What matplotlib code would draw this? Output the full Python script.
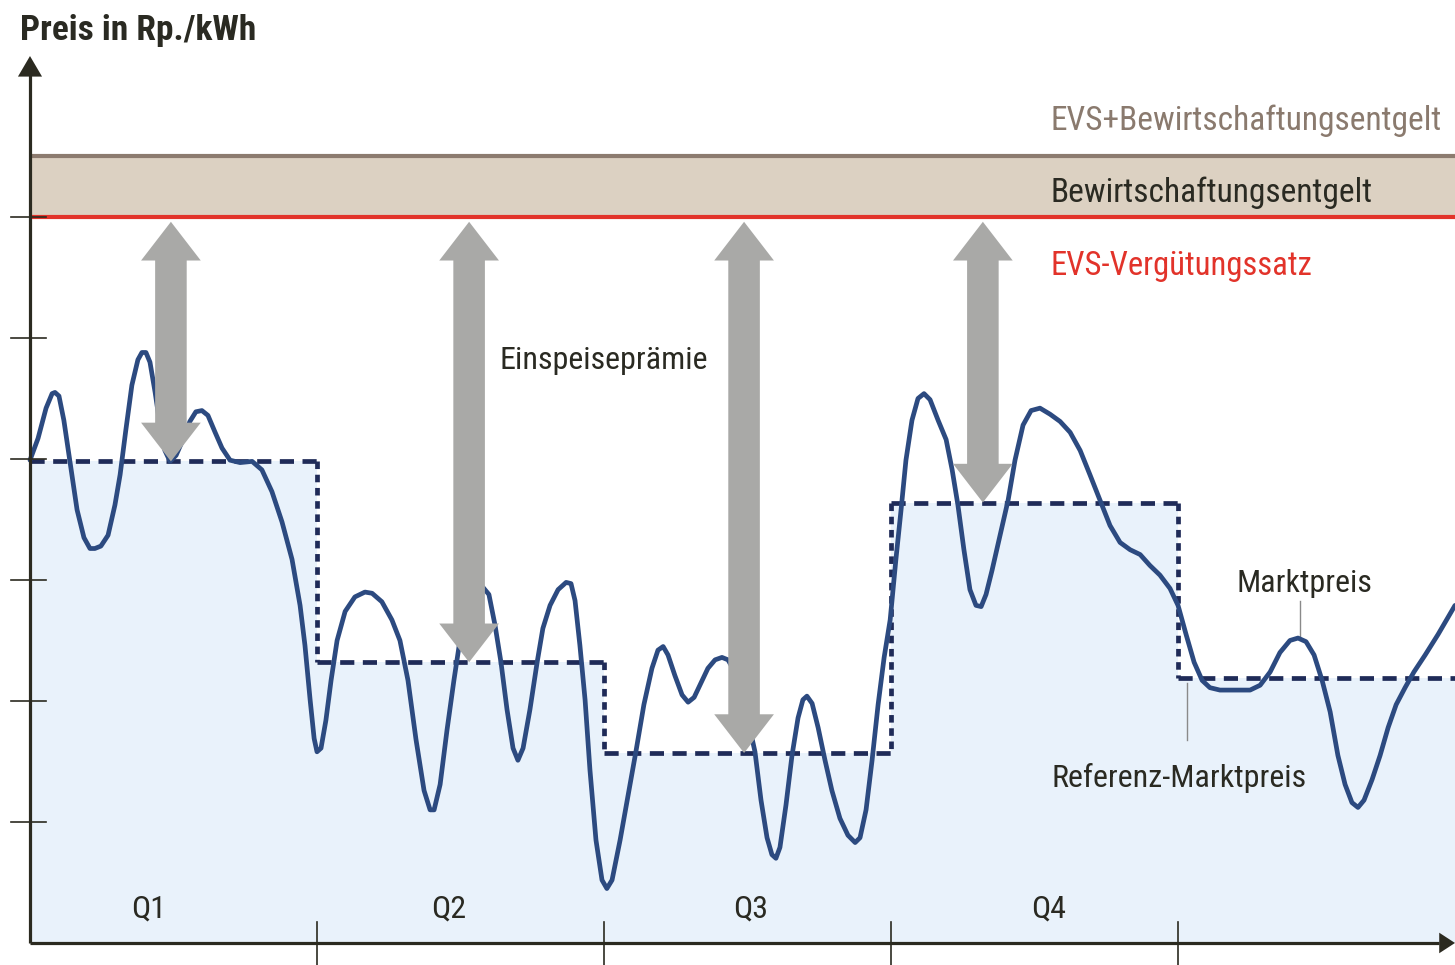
import matplotlib
matplotlib.use('Agg')
import matplotlib.pyplot as plt
from matplotlib.patches import Polygon

# ---------------- data ----------------
# time axis: 100 units per quarter (Q1 = 0..100, Q2 = 100..200, ...)
t = [0, 2.8, 5.6, 7.7, 8.7, 10.1, 11.8, 13.9, 16.4, 18.8, 20.9, 22.6, 24.7, 27.2, 29.6,
     31.4, 33.4, 35.5, 37.6, 39.0, 40.4, 41.8, 43.6, 45.3, 47.0, 48.8, 50.9, 53.3, 55.7,
     57.8, 59.9, 62.0, 64.5, 66.9, 69.7, 73.2, 77.4, 80.8, 84.3, 87.8, 91.3, 94.1, 95.8,
     97.6, 99.0, 100.0, 101.4, 103.1, 104.9, 107.0, 109.8, 113.2, 116.7, 119.2, 122.6,
     126.1, 128.9, 131.7, 134.5, 137.3, 139.4, 140.8, 142.9, 145.3, 147.7, 149.8, 152.6,
     155.4, 157.8, 159.9, 162.0, 164.1, 166.2, 168.3, 170.0, 171.8, 174.2, 176.7, 178.7,
     181.2, 184.0, 186.8, 188.5, 189.9, 191.6, 193.4, 195.1, 197.2, 199.3, 201.0, 202.8,
     205.6, 208.4, 211.1, 213.9, 216.7, 218.8, 220.6, 222.3, 224.7, 227.2, 229.3, 231.4,
     233.8, 236.2, 238.7, 241.1, 243.2, 245.6, 248.1, 250.2, 252.6, 254.7, 256.8, 258.5,
     259.9, 261.3, 263.4, 265.5, 267.6, 269.3, 270.7, 272.5, 274.6, 277.0, 279.4, 282.2,
     285.0, 287.5, 289.2, 291.3, 293.4, 295.5, 297.6, 299.7, 301.7, 303.5, 305.2, 307.3,
     309.4, 311.5, 313.6, 316.4, 319.2, 321.3, 323.3, 325.4, 327.5, 329.6, 331.4, 333.1,
     335.2, 338.0, 340.8, 343.2, 346.0, 348.8, 351.9, 355.4, 358.9, 362.4, 365.9, 369.3,
     372.8, 376.3, 379.8, 383.3, 386.8, 390.2, 393.7, 397.2, 400.0, 402.8, 405.6, 408.4,
     411.1, 414.6, 419.9, 425.1, 428.6, 432.1, 435.5, 439.0, 441.8, 444.6, 447.4, 450.2,
     453.0, 455.7, 458.2, 460.6, 462.7, 464.8, 467.6, 470.4, 473.2, 476.0, 479.1, 482.2,
     486.1, 490.6, 496.5]
market_price = [39.9, 41.7, 44.2, 45.4, 45.5, 45.2, 43.2, 39.8, 35.8, 33.5, 32.6, 32.6, 32.8,
                33.7, 36.2, 38.7, 42.4, 46.1, 48.2, 48.8, 48.8, 48.0, 45.5, 42.8, 40.7, 39.8,
                40.3, 41.6, 43.1, 43.9, 44.0, 43.6, 42.2, 40.9, 39.9, 39.7, 39.8, 39.1, 37.3,
                34.8, 31.7, 27.9, 24.6, 20.1, 16.9, 15.8, 16.1, 18.4, 21.7, 25.0, 27.4, 28.6,
                29.0, 28.9, 28.2, 26.7, 25.0, 21.7, 16.8, 12.6, 11.0, 11.0, 13.1, 17.6, 21.7,
                25.0, 27.9, 29.2, 29.4, 28.8, 26.3, 23.2, 19.3, 16.1, 15.1, 16.1, 19.3, 23.2,
                26.0, 27.9, 29.2, 29.8, 29.7, 28.3, 24.6, 20.1, 14.3, 8.5, 5.2, 4.5, 5.2, 8.5,
                12.2, 15.8, 19.7, 22.7, 24.2, 24.5, 23.8, 22.1, 20.5, 19.9, 20.3, 21.5, 22.7,
                23.4, 23.6, 23.4, 22.4, 20.5, 18.4, 15.8, 11.8, 8.7, 7.3, 7.0, 7.9, 11.4, 15.5,
                18.6, 20.1, 20.4, 19.8, 17.8, 15.1, 12.6, 10.3, 8.9, 8.3, 8.7, 11.0, 15.1, 19.7,
                23.6, 26.7, 31.7, 35.8, 39.9, 43.2, 45.0, 45.4, 44.9, 43.2, 41.6, 39.1, 36.2,
                32.5, 29.2, 27.9, 27.8, 28.8, 30.8, 33.7, 36.6, 39.9, 42.8, 44.0, 44.2, 43.7,
                43.1, 42.2, 40.7, 38.7, 36.6, 34.5, 33.1, 32.5, 32.1, 31.2, 30.4, 29.3, 27.9,
                25.5, 23.2, 21.7, 21.1, 20.9, 20.9, 20.9, 21.3, 22.4, 24.0, 25.0, 25.2, 24.9,
                23.8, 21.7, 19.1, 15.5, 13.1, 11.6, 11.2, 11.8, 13.5, 15.5, 17.8, 19.7, 21.1,
                22.4, 23.8, 25.5, 27.9]

period_bounds = [0, 100, 200, 300, 400, 496.5]
ref_price = [39.8, 23.2, 15.7, 36.4, 21.9]   # Referenz-Marktpreis per quarter
evs_rate = 60.0                               # EVS-Vergütungssatz
evs_plus_fee = 65.0                           # EVS + Bewirtschaftungsentgelt
y_ticks = [10, 20, 30, 40, 50, 60]
q_labels = ['Q1', 'Q2', 'Q3', 'Q4']
q_label_x = [41.5, 146, 251, 355]
arrow_x = [49.1, 153.0, 248.8, 332.0]
arrow_quarter = [0, 1, 2, 3]

# ---------------- style ----------------
AXIS_C = '#2b2a20'
CURVE_C = '#2c4a80'
STEP_C = '#1f2b58'
FILL_C = '#e9f2fb'
BAND_C = '#dcd1c2'
BAND_TOP_C = '#8c7b6f'
RED_C = '#e2332a'
ARROW_C = '#a9a9a7'
TEXT_C = '#2a2a22'

FAMS = ['Liberation Sans Narrow', 'DejaVu Sans Condensed', 'Roboto Condensed', 'DejaVu Sans']

fig = plt.figure(figsize=(14.55, 9.65), dpi=100)
ax = fig.add_axes([0, 0, 1, 1])
ax.set_xlim(-10.45, 496.5)
ax.set_ylim(-1.82, 77.93)
ax.axis('off')

# fill under reference step
xs, ys = [], []
for i, r in enumerate(ref_price):
    xs += [period_bounds[i], period_bounds[i + 1]]
    ys += [r, r]
ax.fill_between(xs, 0, ys, color=FILL_C, lw=0, zorder=1)

# band
ax.fill_between([0, 496.5], evs_rate, evs_plus_fee, color=BAND_C, lw=0, zorder=1)
ax.plot([0, 496.5], [evs_plus_fee, evs_plus_fee], color=BAND_TOP_C, lw=3.0,
        solid_capstyle='butt', zorder=2)
ax.plot([0, 496.5], [evs_rate, evs_rate], color=RED_C, lw=3.0,
        solid_capstyle='butt', zorder=2)

# reference step (dashed)
for i, r in enumerate(ref_price):
    ax.plot([period_bounds[i], period_bounds[i + 1]], [r, r], color=STEP_C, lw=3.4,
            dashes=(3.0, 1.8), dash_capstyle='butt', zorder=3)
for i in range(1, len(ref_price)):
    lo, hi = sorted([ref_price[i - 1], ref_price[i]])
    ax.plot([period_bounds[i], period_bounds[i]], [hi, lo], color=STEP_C, lw=3.4,
            dashes=(1.6, 1.2), dash_capstyle='butt', zorder=3)

# market price curve
ax.plot(t, market_price, color=CURVE_C, lw=3.4, solid_joinstyle='round',
        solid_capstyle='round', zorder=4)

# double arrows (Einspeiseprämie)
sh, hh, hl = 5.5, 10.4, 3.2
for x, q in zip(arrow_x, arrow_quarter):
    y0 = ref_price[q]
    y1 = evs_rate - 0.4
    pts = [(x, y1), (x + hh, y1 - hl), (x + sh, y1 - hl), (x + sh, y0 + hl),
           (x + hh, y0 + hl), (x, y0), (x - hh, y0 + hl), (x - sh, y0 + hl),
           (x - sh, y1 - hl), (x - hh, y1 - hl)]
    ax.add_patch(Polygon(pts, closed=True, facecolor=ARROW_C, edgecolor='none', zorder=5))

# axes
ax.plot([0, 0], [0, 72.0], color=AXIS_C, lw=2.3, solid_capstyle='butt', zorder=6)
ax.plot([0, 491.0], [0, 0], color=AXIS_C, lw=2.3, solid_capstyle='butt', zorder=6)
ax.add_patch(Polygon([(0, 73.3), (-4.2, 71.6), (4.2, 71.6)], closed=True,
                     facecolor=AXIS_C, edgecolor='none', zorder=6))
ax.add_patch(Polygon([(496.5, 0), (491.0, 0.85), (491.0, -0.85)], closed=True,
                     facecolor=AXIS_C, edgecolor='none', zorder=6))
for yt in y_ticks:
    ax.plot([-6.5, 5.5], [yt, yt], color=AXIS_C, lw=1.2, zorder=6)
for xb in period_bounds[1:-1]:
    ax.plot([xb, xb], [1.75, -1.82], color=AXIS_C, lw=1.2, zorder=6)

# texts
ax.text(-3.5, 74.6, 'Preis in Rp./kWh', family=FAMS, fontsize=25.5, fontweight='bold',
        color=TEXT_C, ha='left', va='baseline')
ax.text(355.5, 67.2, 'EVS+Bewirtschaftungsentgelt', family=FAMS, fontsize=24,
        color='#8a7a6e', ha='left', va='baseline')
ax.text(355.5, 61.2, 'Bewirtschaftungsentgelt', family=FAMS, fontsize=24,
        color=TEXT_C, ha='left', va='baseline')
ax.text(355.5, 55.2, 'EVS-Vergütungssatz', family=FAMS, fontsize=23.5,
        color=RED_C, ha='left', va='baseline')
ax.text(163.5, 47.4, 'Einspeiseprämie', family=FAMS, fontsize=23,
        color=TEXT_C, ha='left', va='baseline')
ax.text(444.0, 29.0, 'Marktpreis', family=FAMS, fontsize=23,
        color=TEXT_C, ha='center', va='baseline')
ax.text(356.0, 12.9, 'Referenz-Marktpreis', family=FAMS, fontsize=23,
        color=TEXT_C, ha='left', va='baseline')
for lab, xq in zip(q_labels, q_label_x):
    ax.text(xq, 2.1, lab, family=FAMS, fontsize=23, color=TEXT_C,
            ha='center', va='baseline')

# leader lines
ax.plot([442.5, 442.5], [28.3, 25.4], color='#8a8a8a', lw=1.0, zorder=3)
ax.plot([403.0, 403.0], [21.5, 16.8], color='#8a8a8a', lw=1.0, zorder=3)

fig.savefig('out.png', dpi=100)
